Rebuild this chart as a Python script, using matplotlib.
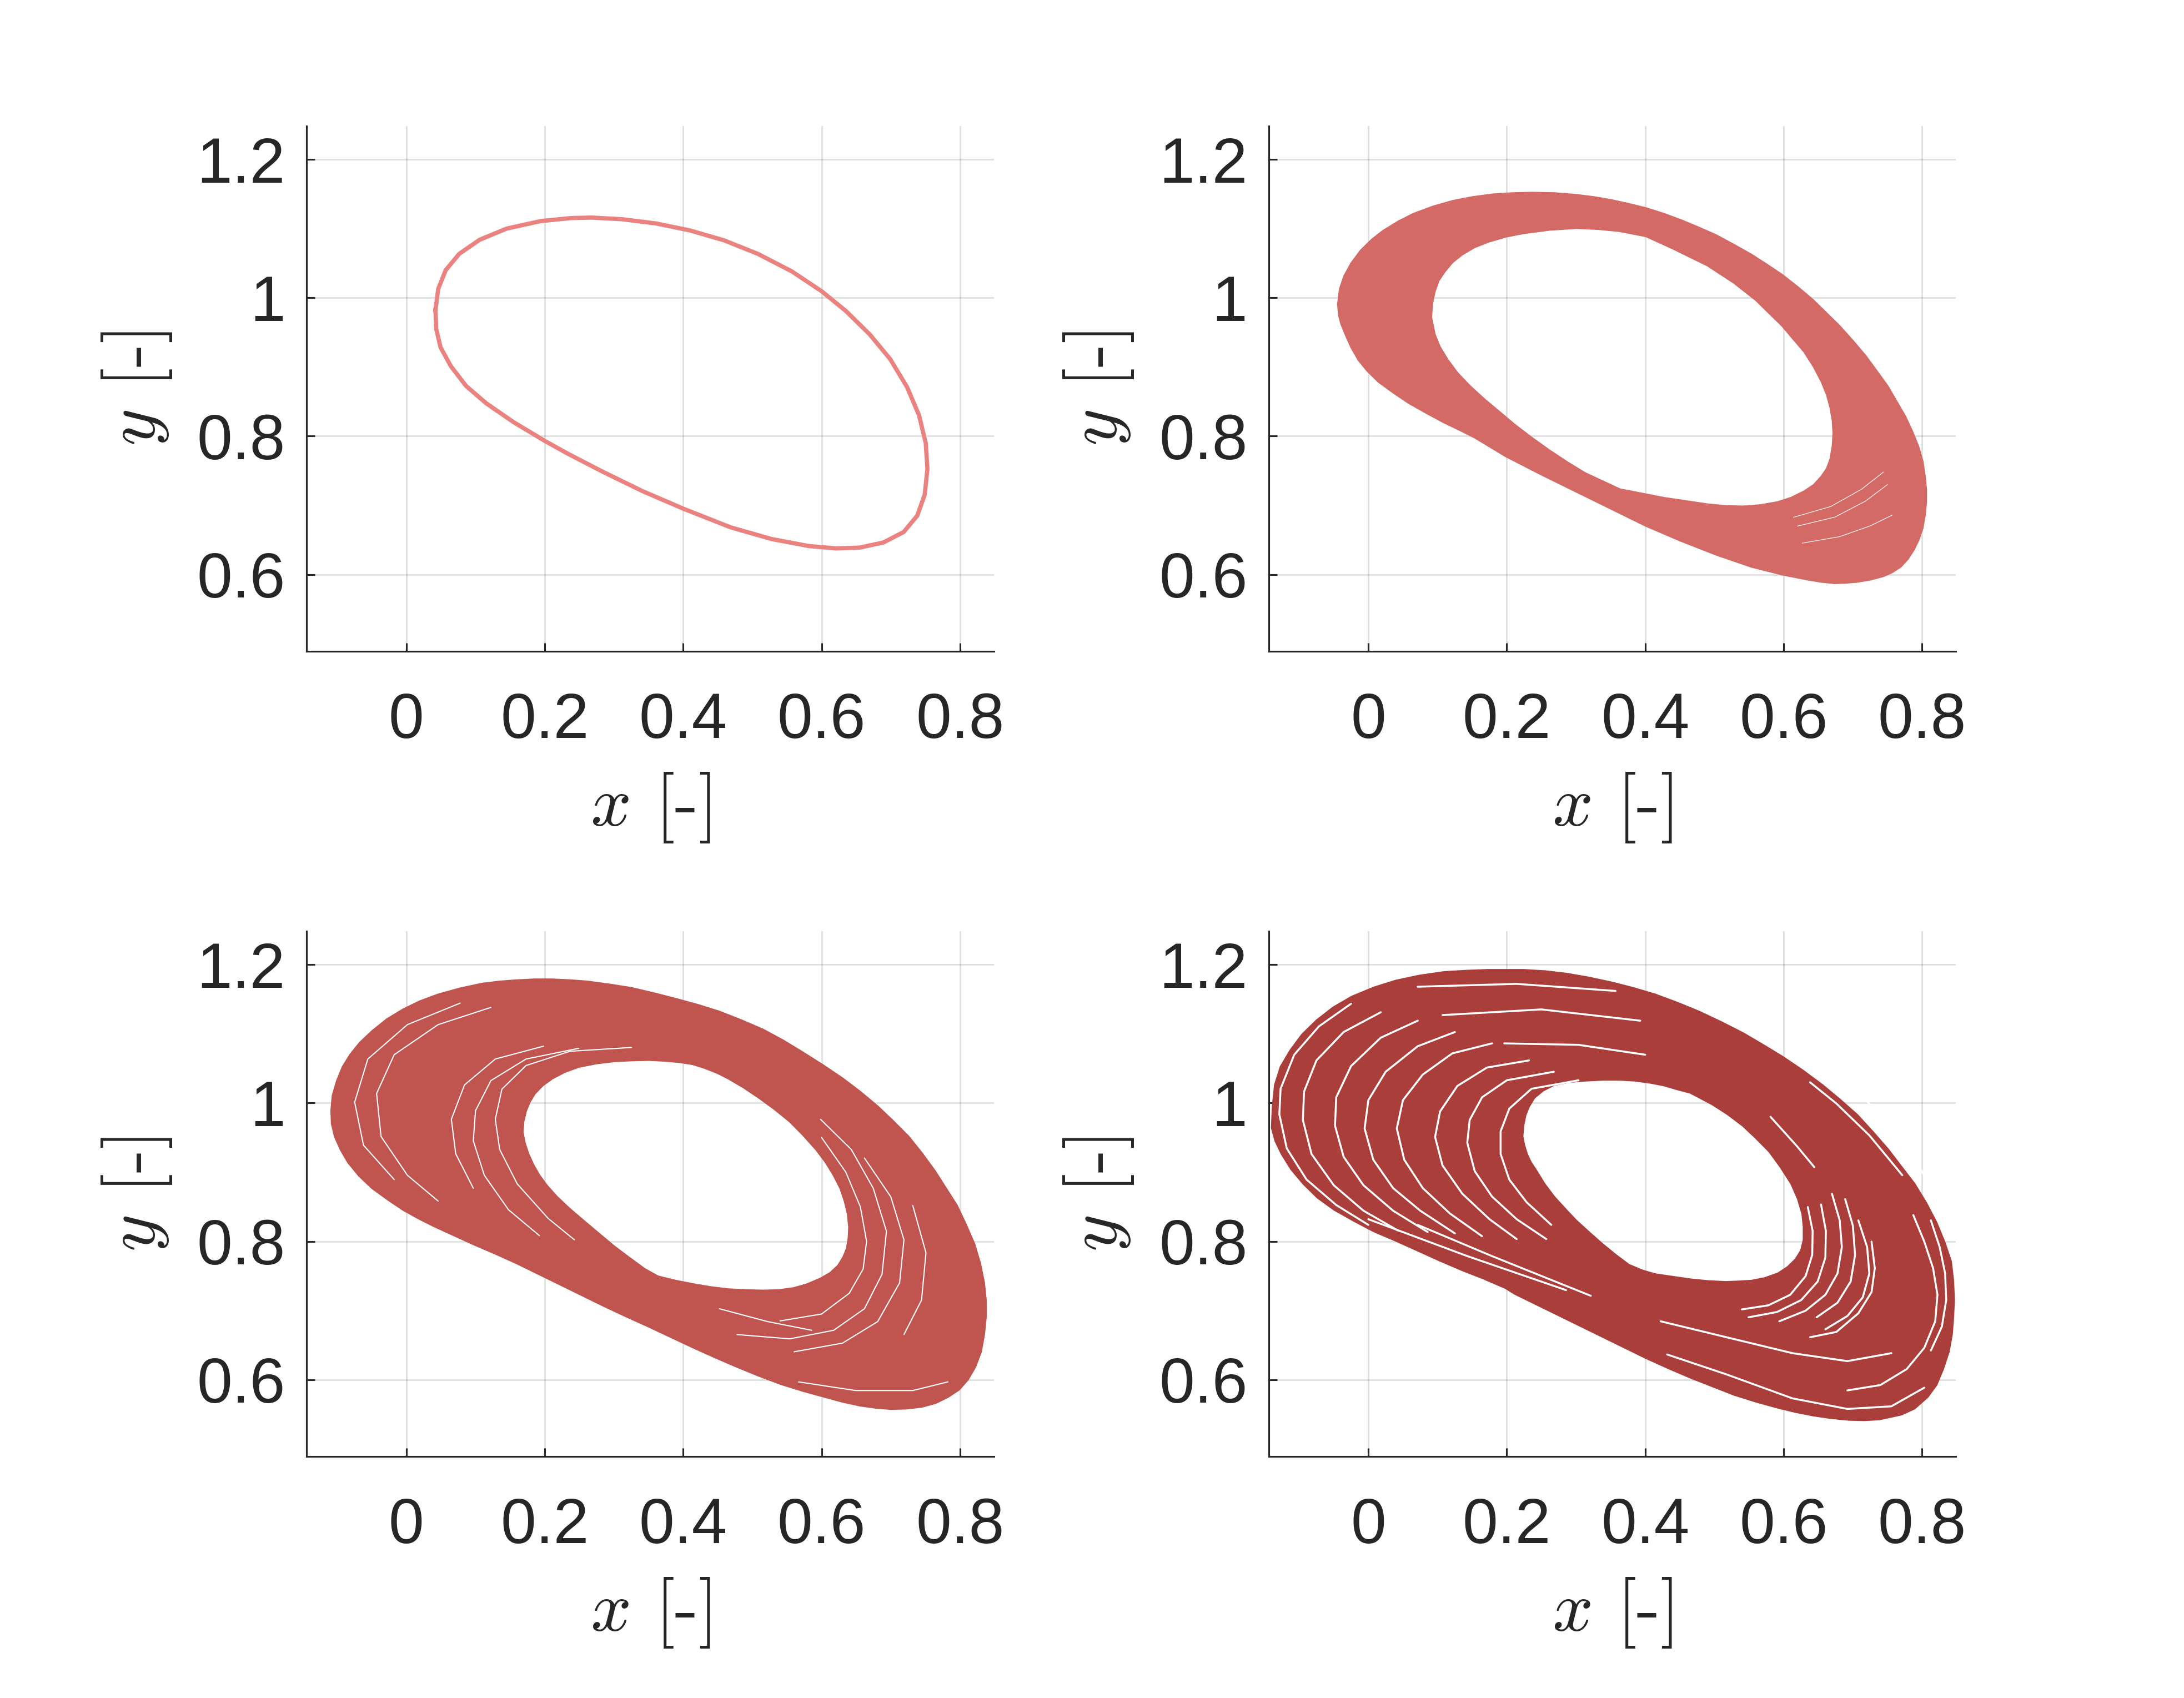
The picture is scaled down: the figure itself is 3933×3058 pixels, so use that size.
import numpy as np
import matplotlib
matplotlib.use('Agg')
import matplotlib.pyplot as plt
from matplotlib.path import Path
from matplotlib.patches import PathPatch

plt.rcParams['mathtext.fontset'] = 'cm'
plt.rcParams['font.family'] = ['Liberation Sans', 'DejaVu Sans']

# ---- values ----
# panel 1: single limit cycle
cyc_x = [0.0422, 0.0461, 0.0569, 0.0765, 0.1059, 0.1451, 0.1941, 0.2382, 0.2676, 0.3118,
         0.3608, 0.4098, 0.4588, 0.5078, 0.5569, 0.6000, 0.6353, 0.6696, 0.6990, 0.7235,
         0.7407, 0.7505, 0.7529, 0.7490, 0.7382, 0.7186, 0.6892, 0.6549, 0.6206, 0.5814,
         0.5275, 0.4686, 0.4000, 0.3412, 0.2824, 0.2333, 0.2000, 0.1549, 0.1157, 0.0863,
         0.0642, 0.0495, 0.0431]
cyc_y = [0.9824, 1.0128, 1.0399, 1.0635, 1.0838, 1.1000, 1.1108, 1.1152, 1.1159, 1.1135,
         1.1074, 1.0973, 1.0831, 1.0635, 1.0382, 1.0095, 0.9807, 0.9470, 0.9115, 0.8709,
         0.8304, 0.7899, 0.7527, 0.7155, 0.6851, 0.6615, 0.6463, 0.6389, 0.6378, 0.6412,
         0.6514, 0.6682, 0.6953, 0.7206, 0.7493, 0.7747, 0.7932, 0.8203, 0.8473, 0.8726,
         0.9014, 0.9284, 0.9554]

# panel 2: dense band, outer edge and hole edge
b2_out_x = [-0.0438, -0.0412, -0.0349, -0.0247, -0.0108, 0.0051, 0.0209, 0.0431, 0.0653, 0.0938,
            0.1224, 0.1509, 0.1794, 0.2080, 0.2365, 0.2682, 0.2999, 0.3252, 0.3506, 0.3760,
            0.4013, 0.4267, 0.4520, 0.4774, 0.5028, 0.5281, 0.5535, 0.5757, 0.5979, 0.6201,
            0.6422, 0.6613, 0.6803, 0.6993, 0.7183, 0.7342, 0.7500, 0.7627, 0.7754, 0.7855,
            0.7944, 0.8007, 0.8039, 0.8058, 0.8058, 0.8039, 0.8007, 0.7950, 0.7881, 0.7792,
            0.7690, 0.7564, 0.7437, 0.7247, 0.7056, 0.6898, 0.6740, 0.6549, 0.6359, 0.6169,
            0.5979, 0.5535, 0.5028, 0.4520, 0.4013, 0.3506, 0.2999, 0.2492, 0.1984, 0.1542,
            0.1320, 0.1098, 0.0844, 0.0590, 0.0368, 0.0146, -0.0013, -0.0140, -0.0247, -0.0330,
            -0.0393, -0.0425]
b2_out_y = [0.9907, 1.0124, 1.0311, 1.0498, 1.0684, 1.0840, 1.0964, 1.1101, 1.1213, 1.1319,
            1.1400, 1.1455, 1.1493, 1.1511, 1.1518, 1.1511, 1.1487, 1.1455, 1.1412, 1.1356,
            1.1294, 1.1213, 1.1120, 1.1014, 1.0902, 1.0765, 1.0622, 1.0479, 1.0330, 1.0156,
            0.9969, 0.9782, 0.9596, 0.9384, 0.9160, 0.8943, 0.8725, 0.8507, 0.8289, 0.8072,
            0.7854, 0.7636, 0.7419, 0.7232, 0.7045, 0.6859, 0.6672, 0.6504, 0.6361, 0.6224,
            0.6113, 0.6032, 0.5976, 0.5926, 0.5895, 0.5882, 0.5876, 0.5895, 0.5926, 0.5963,
            0.6001, 0.6113, 0.6287, 0.6486, 0.6703, 0.6952, 0.7201, 0.7450, 0.7711, 0.7978,
            0.8090, 0.8196, 0.8333, 0.8476, 0.8625, 0.8787, 0.8943, 0.9098, 0.9285, 0.9471,
            0.9627, 0.9751]
b2_in_x = [0.0907, 0.0920, 0.0958, 0.1015, 0.1098, 0.1211, 0.1350, 0.1528, 0.1731, 0.1984,
           0.2238, 0.2618, 0.2999, 0.3316, 0.3633, 0.4013, 0.4394, 0.4647, 0.4901, 0.5091,
           0.5281, 0.5440, 0.5598, 0.5789, 0.5979, 0.6137, 0.6296, 0.6435, 0.6549, 0.6625,
           0.6676, 0.6708, 0.6720, 0.6708, 0.6676, 0.6625, 0.6549, 0.6435, 0.6296, 0.6106,
           0.5915, 0.5662, 0.5408, 0.5154, 0.4901, 0.4267, 0.3633, 0.3126, 0.2872, 0.2618,
           0.2366, 0.2113, 0.1891, 0.1669, 0.1465, 0.1288, 0.1148, 0.1034, 0.0958]
b2_in_y = [0.9720, 0.9907, 1.0093, 1.0249, 1.0373, 1.0510, 1.0622, 1.0728, 1.0809, 1.0883,
           1.0933, 1.0983, 1.1008, 1.0995, 1.0964, 1.0889, 1.0715, 1.0591, 1.0467, 1.0342,
           1.0218, 1.0093, 0.9969, 0.9782, 0.9596, 0.9409, 0.9223, 0.9005, 0.8787, 0.8600,
           0.8414, 0.8227, 0.8041, 0.7854, 0.7668, 0.7531, 0.7419, 0.7294, 0.7201, 0.7108,
           0.7046, 0.7002, 0.6983, 0.6990, 0.7014, 0.7108, 0.7232, 0.7468, 0.7624, 0.7792,
           0.7972, 0.8165, 0.8352, 0.8538, 0.8725, 0.8911, 0.9098, 0.9285, 0.9471]
b2_gaps = [
    ([0.6141, 0.6680, 0.7124, 0.7442], [0.6827, 0.6983, 0.7232, 0.7481]),
    ([0.6200, 0.6740, 0.7180, 0.7500], [0.6700, 0.6830, 0.7060, 0.7300]),
    ([0.6268, 0.6807, 0.7251, 0.7569], [0.6454, 0.6547, 0.6703, 0.6859]),
]

# panel 3: wider band
b3_out_x = [-0.1083, -0.1064, -0.1000, -0.0918, -0.0810, -0.0670, -0.0492, -0.0283, -0.0048, 0.0194,
            0.0460, 0.0778, 0.1095, 0.1349, 0.1603, 0.1857, 0.2111, 0.2365, 0.2619, 0.2937,
            0.3254, 0.3572, 0.3889, 0.4207, 0.4524, 0.4842, 0.5159, 0.5445, 0.5731, 0.6017,
            0.6302, 0.6556, 0.6810, 0.7032, 0.7255, 0.7445, 0.7636, 0.7795, 0.7953, 0.8080,
            0.8207, 0.8290, 0.8347, 0.8372, 0.8372, 0.8347, 0.8302, 0.8220, 0.8112, 0.7985,
            0.7826, 0.7649, 0.7445, 0.7223, 0.7001, 0.6779, 0.6556, 0.6302, 0.6048, 0.5731,
            0.5413, 0.5096, 0.4778, 0.4461, 0.4143, 0.3826, 0.3508, 0.3191, 0.2873, 0.2556,
            0.2238, 0.1921, 0.1603, 0.1286, 0.0968, 0.0683, 0.0397, 0.0175, -0.0048, -0.0270,
            -0.0492, -0.0683, -0.0841, -0.0949, -0.1032, -0.1076]
b3_out_y = [0.9888, 1.0106, 1.0323, 1.0522, 1.0697, 1.0871, 1.1039, 1.1207, 1.1350, 1.1468,
            1.1567, 1.1655, 1.1723, 1.1754, 1.1773, 1.1785, 1.1785, 1.1773, 1.1754, 1.1711,
            1.1661, 1.1586, 1.1505, 1.1418, 1.1319, 1.1194, 1.1057, 1.0902, 1.0728, 1.0547,
            1.0355, 1.0162, 0.9950, 0.9739, 0.9515, 0.9278, 0.9017, 0.8768, 0.8520, 0.8252,
            0.7960, 0.7680, 0.7400, 0.7151, 0.6902, 0.6654, 0.6405, 0.6187, 0.6001, 0.5857,
            0.5752, 0.5665, 0.5609, 0.5584, 0.5578, 0.5596, 0.5627, 0.5683, 0.5752, 0.5839,
            0.5938, 0.6057, 0.6187, 0.6324, 0.6467, 0.6616, 0.6766, 0.6909, 0.7058, 0.7213,
            0.7369, 0.7524, 0.7680, 0.7823, 0.7960, 0.8090, 0.8221, 0.8333, 0.8457, 0.8607,
            0.8768, 0.8949, 0.9142, 0.9328, 0.9515, 0.9701]
b3_in_x = [0.1680, 0.1692, 0.1730, 0.1781, 0.1857, 0.1972, 0.2111, 0.2289, 0.2492, 0.2746,
           0.3000, 0.3254, 0.3508, 0.3731, 0.3953, 0.4143, 0.4302, 0.4493, 0.4651, 0.4874,
           0.5096, 0.5318, 0.5540, 0.5731, 0.5921, 0.6061, 0.6175, 0.6271, 0.6334, 0.6379,
           0.6398, 0.6391, 0.6366, 0.6315, 0.6239, 0.6125, 0.5985, 0.5795, 0.5604, 0.5382,
           0.5160, 0.4905, 0.4651, 0.4397, 0.4143, 0.3889, 0.3635, 0.3445, 0.3223, 0.3000,
           0.2778, 0.2556, 0.2353, 0.2175, 0.2035, 0.1921, 0.1832, 0.1762, 0.1711]
b3_in_y = [0.9577, 0.9733, 0.9888, 1.0012, 1.0137, 1.0255, 1.0355, 1.0448, 1.0522, 1.0572,
           1.0603, 1.0616, 1.0622, 1.0610, 1.0591, 1.0560, 1.0510, 1.0435, 1.0355, 1.0224,
           1.0075, 0.9913, 0.9733, 0.9540, 0.9328, 0.9142, 0.8955, 0.8768, 0.8582, 0.8395,
           0.8209, 0.8053, 0.7898, 0.7773, 0.7649, 0.7543, 0.7462, 0.7381, 0.7325, 0.7294,
           0.7288, 0.7294, 0.7307, 0.7338, 0.7381, 0.7431, 0.7493, 0.7599, 0.7761, 0.7929,
           0.8115, 0.8302, 0.8476, 0.8644, 0.8800, 0.8955, 0.9111, 0.9266, 0.9422]
b3_gaps = [
    ([0.3254, 0.2365, 0.1730, 0.1381, 0.1286, 0.1349, 0.1603, 0.2048, 0.2429],
     [1.0802, 1.0747, 1.0541, 1.0199, 0.9764, 0.9328, 0.8830, 0.8333, 0.8022]),
    ([0.2492, 0.1730, 0.1222, 0.1000, 0.0968, 0.1127, 0.1476, 0.1921],
     [1.0790, 1.0635, 1.0323, 0.9888, 0.9453, 0.8955, 0.8457, 0.8084]),
    ([0.1984, 0.1286, 0.0841, 0.0651, 0.0714, 0.0968],
     [1.0821, 1.0635, 1.0261, 0.9764, 0.9266, 0.8768]),
    ([0.1222, 0.0460, -0.0175, -0.0429, -0.0365, 0.0016, 0.0460],
     [1.1381, 1.1132, 1.0697, 1.0137, 0.9515, 0.8955, 0.8582]),
    ([0.0778, 0.0016, -0.0556, -0.0746, -0.0619, -0.0175],
     [1.1443, 1.1132, 1.0635, 1.0012, 0.9390, 0.8893]),
    ([0.6000, 0.6350, 0.6560, 0.6650, 0.6600, 0.6400, 0.6000, 0.5400],
     [0.9500, 0.9000, 0.8500, 0.8000, 0.7600, 0.7250, 0.6950, 0.6850]),
    ([0.5984, 0.6429, 0.6746, 0.6937, 0.6873, 0.6619, 0.6175, 0.5540, 0.4778],
     [0.9764, 0.9328, 0.8768, 0.8146, 0.7524, 0.7026, 0.6715, 0.6591, 0.6653]),
    ([0.6619, 0.7000, 0.7190, 0.7127, 0.6810, 0.6302, 0.5603],
     [0.9204, 0.8644, 0.8022, 0.7400, 0.6840, 0.6529, 0.6404]),
    ([0.7317, 0.7508, 0.7444, 0.7190], [0.8519, 0.7835, 0.7151, 0.6653]),
    ([0.5667, 0.6492, 0.7317, 0.7825], [0.5969, 0.5844, 0.5844, 0.5969]),
    ([0.4524, 0.5222, 0.5857], [0.7026, 0.6840, 0.6715]),
]

# panel 4: chaotic band
b4_out_x = [-0.1394, -0.1381, -0.1349, -0.1267, -0.1127, -0.0956, -0.0746, -0.0505, -0.0238, 0.0079,
            0.0397, 0.0746, 0.1095, 0.1413, 0.1730, 0.1984, 0.2238, 0.2556, 0.2873, 0.3191,
            0.3508, 0.3826, 0.4143, 0.4461, 0.4778, 0.5096, 0.5413, 0.5699, 0.5985, 0.6270,
            0.6556, 0.6810, 0.7064, 0.7286, 0.7509, 0.7699, 0.7890, 0.8061, 0.8207, 0.8322,
            0.8417, 0.8449, 0.8461, 0.8449, 0.8430, 0.8385, 0.8303, 0.8207, 0.8080, 0.7890,
            0.7699, 0.7382, 0.7159, 0.6937, 0.6683, 0.6429, 0.6175, 0.5921, 0.5604, 0.5286,
            0.4969, 0.4651, 0.4334, 0.4016, 0.3699, 0.3381, 0.3064, 0.2746, 0.2429, 0.2111,
            0.1984, 0.1667, 0.1349, 0.1032, 0.0714, 0.0397, 0.0079, -0.0206, -0.0492, -0.0734,
            -0.0937, -0.1114, -0.1254, -0.1343]
b4_out_y = [0.9639, 0.9950, 1.0261, 1.0522, 1.0759, 1.0989, 1.1194, 1.1381, 1.1536, 1.1667,
            1.1767, 1.1841, 1.1891, 1.1910, 1.1922, 1.1922, 1.1922, 1.1903, 1.1866, 1.1810,
            1.1742, 1.1661, 1.1567, 1.1449, 1.1319, 1.1169, 1.1008, 1.0840, 1.0666, 1.0473,
            1.0261, 1.0050, 0.9826, 0.9583, 0.9328, 0.9079, 0.8831, 0.8551, 0.8271, 0.7991,
            0.7711, 0.7431, 0.7151, 0.6902, 0.6654, 0.6405, 0.6156, 0.5926, 0.5752, 0.5584,
            0.5497, 0.5428, 0.5416, 0.5422, 0.5447, 0.5484, 0.5534, 0.5596, 0.5683, 0.5783,
            0.5907, 0.6032, 0.6168, 0.6312, 0.6467, 0.6623, 0.6778, 0.6934, 0.7089, 0.7245,
            0.7325, 0.7462, 0.7587, 0.7723, 0.7867, 0.8010, 0.8146, 0.8296, 0.8457, 0.8632,
            0.8831, 0.9042, 0.9266, 0.9453]
b4_in_x = [0.2226, 0.2238, 0.2270, 0.2321, 0.2397, 0.2524, 0.2683, 0.2905, 0.3127, 0.3381,
           0.3635, 0.3858, 0.4080, 0.4270, 0.4461, 0.4651, 0.4969, 0.5191, 0.5413, 0.5604,
           0.5794, 0.5953, 0.6112, 0.6207, 0.6271, 0.6290, 0.6290, 0.6252, 0.6175, 0.6061,
           0.5921, 0.5731, 0.5540, 0.5350, 0.5159, 0.4905, 0.4651, 0.4397, 0.4143, 0.3953,
           0.3762, 0.3572, 0.3381, 0.3191, 0.3000, 0.2842, 0.2683, 0.2543, 0.2429, 0.2346,
           0.2289, 0.2251]
b4_in_y = [0.9515, 0.9670, 0.9826, 0.9950, 1.0075, 1.0180, 1.0261, 1.0305, 1.0323, 1.0336,
           1.0336, 1.0323, 1.0292, 1.0255, 1.0199, 1.0149, 0.9981, 0.9838, 0.9670, 0.9490,
           0.9297, 0.9079, 0.8831, 0.8613, 0.8395, 0.8209, 0.8022, 0.7867, 0.7742, 0.7630,
           0.7537, 0.7469, 0.7431, 0.7419, 0.7412, 0.7425, 0.7450, 0.7487, 0.7524, 0.7580,
           0.7661, 0.7804, 0.7960, 0.8128, 0.8302, 0.8470, 0.8644, 0.8831, 0.9017, 0.9142,
           0.9266, 0.9390]
b4_gaps = [
    # left-hand arcs
    ([-0.0250, -0.0714, -0.1071, -0.1268, -0.1286, -0.1179, -0.0893, -0.0464, 0.0000],
     [1.1434, 1.1107, 1.0697, 1.0205, 0.9836, 0.9344, 0.8893, 0.8525, 0.8238]),
    ([0.0179, -0.0357, -0.0750, -0.0929, -0.0946, -0.0821, -0.0500, -0.0071, 0.0429],
     [1.1311, 1.1025, 1.0615, 1.0164, 0.9754, 0.9262, 0.8811, 0.8443, 0.8156]),
    ([0.0714, 0.0179, -0.0250, -0.0464, -0.0482, -0.0357, -0.0071, 0.0357, 0.0857],
     [1.1189, 1.0943, 1.0533, 1.0082, 0.9672, 0.9221, 0.8811, 0.8443, 0.8135]),
    ([0.1250, 0.0714, 0.0250, 0.0000, -0.0054, 0.0071, 0.0357, 0.0750, 0.1250],
     [1.1025, 1.0820, 1.0451, 1.0041, 0.9631, 0.9180, 0.8770, 0.8443, 0.8115]),
    ([0.1786, 0.1214, 0.0786, 0.0500, 0.0411, 0.0518, 0.0786, 0.1179, 0.1643],
     [1.0861, 1.0717, 1.0410, 1.0041, 0.9631, 0.9180, 0.8770, 0.8402, 0.8074]),
    ([0.2321, 0.1714, 0.1286, 0.1036, 0.0964, 0.1071, 0.1357, 0.1750, 0.2143],
     [1.0615, 1.0512, 1.0246, 0.9877, 0.9508, 0.9098, 0.8689, 0.8320, 0.8033]),
    ([0.2679, 0.2000, 0.1643, 0.1464, 0.1429, 0.1536, 0.1786, 0.2143, 0.2571],
     [1.0451, 1.0328, 1.0082, 0.9754, 0.9426, 0.9016, 0.8648, 0.8320, 0.8033]),
    ([0.3036, 0.2357, 0.2036, 0.1911, 0.1911, 0.2036, 0.2286, 0.2643],
     [1.0328, 1.0205, 0.9918, 0.9590, 0.9262, 0.8893, 0.8566, 0.8238]),
    # top slivers
    ([0.0714, 0.2143, 0.3571], [1.1680, 1.1721, 1.1619]),
    ([0.1071, 0.2500, 0.3929], [1.1270, 1.1352, 1.1189]),
    ([0.1964, 0.3036, 0.4000], [1.0861, 1.0840, 1.0697]),
    # lower-left slivers
    ([0.0000, 0.1429, 0.2857], [0.8320, 0.7787, 0.7295]),
    ([0.0714, 0.1786, 0.3214], [0.8238, 0.7787, 0.7213]),
    # right-hand arcs
    ([0.6349, 0.6419, 0.6413, 0.6317, 0.6095, 0.5778, 0.5397],
     [0.8495, 0.8150, 0.7804, 0.7497, 0.7228, 0.7075, 0.7017]),
    ([0.6540, 0.6610, 0.6603, 0.6492, 0.6254, 0.5905, 0.5492],
     [0.8534, 0.8150, 0.7766, 0.7420, 0.7152, 0.6979, 0.6902]),
    ([0.6698, 0.6810, 0.6841, 0.6778, 0.6603, 0.6317, 0.5937],
     [0.8687, 0.8303, 0.7919, 0.7536, 0.7228, 0.6998, 0.6845]),
    ([0.6889, 0.7000, 0.7032, 0.6968, 0.6778, 0.6476],
     [0.8610, 0.8227, 0.7804, 0.7420, 0.7113, 0.6902]),
    ([0.7079, 0.7206, 0.7238, 0.7143, 0.6921, 0.6603],
     [0.8303, 0.7919, 0.7536, 0.7190, 0.6921, 0.6729]),
    ([0.7270, 0.7317, 0.7270, 0.7079, 0.6762, 0.6381],
     [0.7996, 0.7612, 0.7267, 0.6960, 0.6691, 0.6614]),
    ([0.7873, 0.8032, 0.8159, 0.8222, 0.8190, 0.8032, 0.7778, 0.7397, 0.6921],
     [0.8380, 0.7996, 0.7612, 0.7228, 0.6845, 0.6461, 0.6154, 0.5923, 0.5846]),
    ([0.8127, 0.8254, 0.8333, 0.8349, 0.8286, 0.8127],
     [0.8303, 0.7919, 0.7536, 0.7152, 0.6768, 0.6422]),
    # bottom slivers
    ([0.4317, 0.5175, 0.6127, 0.6921, 0.7556, 0.8032],
     [0.6365, 0.6077, 0.5731, 0.5578, 0.5616, 0.5885]),
    ([0.4222, 0.5175, 0.6127, 0.6921, 0.7556], [0.6845, 0.6614, 0.6384, 0.6269, 0.6384]),
    # upper-right slivers
    ([0.5810, 0.6190, 0.6444], [0.9800, 0.9378, 0.9071]),
    ([0.6381, 0.6762, 0.7238, 0.7714], [1.0299, 0.9992, 0.9532, 0.8956]),
    ([0.6762, 0.7238, 0.7714, 0.8032], [1.0415, 0.9992, 0.9455, 0.8956]),
]

colors = ['#EA837F', '#D46A66', '#C0554F', '#A93E3B']
xticks = [0, 0.2, 0.4, 0.6, 0.8]
xticklabels = ['0', '0.2', '0.4', '0.6', '0.8']
yticks = [0.6, 0.8, 1.0, 1.2]
yticklabels = ['0.6', '0.8', '1', '1.2']

ink = '#262626'


def band(ax, ox, oy, ix, iy, color):
    outer = np.column_stack([ox, oy])
    inner = np.column_stack([ix, iy])[::-1]
    verts = np.vstack([outer, outer[:1], inner, inner[:1]])
    codes = ([Path.MOVETO] + [Path.LINETO] * (len(outer) - 1) + [Path.CLOSEPOLY] +
             [Path.MOVETO] + [Path.LINETO] * (len(inner) - 1) + [Path.CLOSEPOLY])
    patch = PathPatch(Path(verts, codes), facecolor=color, edgecolor=color,
                      linewidth=1.0, joinstyle='round', zorder=2)
    ax.add_patch(patch)


def gaps(ax, arcs, lw):
    for gx, gy in arcs:
        ax.plot(gx, gy, color='white', linewidth=lw, solid_capstyle='round',
                solid_joinstyle='round', zorder=3)


def style(ax):
    ax.set_xlim(-0.144, 0.849)
    ax.set_ylim(0.489, 1.248)
    ax.set_xticks(xticks)
    ax.set_xticklabels(xticklabels)
    ax.set_yticks(yticks)
    ax.set_yticklabels(yticklabels)
    ax.spines['top'].set_visible(False)
    ax.spines['right'].set_visible(False)
    for s in ['left', 'bottom']:
        ax.spines[s].set_color(ink)
        ax.spines[s].set_linewidth(0.9)
    ax.tick_params(direction='in', length=4.3, width=0.9, color=ink,
                   labelcolor=ink, labelsize=33)
    ax.tick_params(axis='x', pad=21)
    ax.tick_params(axis='y', pad=11)
    ax.grid(True, color=ink, alpha=0.15, linewidth=0.8)
    ax.set_axisbelow(True)
    ax.set_xlabel(r'$x$ [-]', fontsize=37, color=ink, family='cmr10', labelpad=10)
    ax.set_ylabel(r'$y$ [-]', fontsize=37, color=ink, family='cmr10', labelpad=12)


fig = plt.figure(figsize=(3933 / 250, 3058 / 250), dpi=250)
pos = [[0.1404, 0.6164, 0.3147, 0.3093], [0.5809, 0.6164, 0.3147, 0.3093],
       [0.1404, 0.1422, 0.3147, 0.3093], [0.5809, 0.1422, 0.3147, 0.3093]]
axs = [fig.add_axes(p) for p in pos]

axs[0].plot(cyc_x + cyc_x[:1], cyc_y + cyc_y[:1], color=colors[0], linewidth=2.2,
            solid_joinstyle='round')

band(axs[1], b2_out_x, b2_out_y, b2_in_x, b2_in_y, colors[1])
gaps(axs[1], b2_gaps, 0.35)

band(axs[2], b3_out_x, b3_out_y, b3_in_x, b3_in_y, colors[2])
gaps(axs[2], b3_gaps, 0.6)

band(axs[3], b4_out_x, b4_out_y, b4_in_x, b4_in_y, colors[3])
gaps(axs[3], b4_gaps, 1.0)

for ax in axs:
    style(ax)

fig.savefig('out.png', dpi=250)
